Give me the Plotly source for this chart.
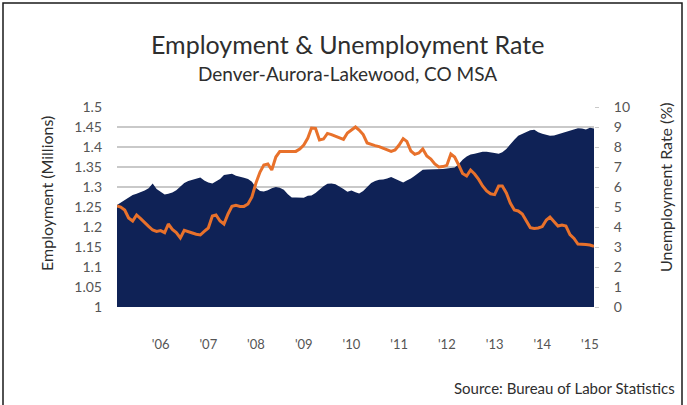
import pandas as pd
import plotly.graph_objects as go

# Monthly observations, Feb 2005 - Feb 2015
months = pd.date_range("2005-02-01", "2015-02-01", freq="MS")

# Nonfarm employment, millions
employment = [
    1.255, 1.261, 1.266, 1.273, 1.280, 1.283, 1.287, 1.291, 1.297, 1.309,
    1.295, 1.287, 1.281, 1.283, 1.286, 1.292, 1.300, 1.310, 1.315, 1.318,
    1.322, 1.324, 1.316, 1.311, 1.309, 1.314, 1.320, 1.330, 1.332, 1.333,
    1.328, 1.326, 1.323, 1.320, 1.313, 1.298, 1.290, 1.289, 1.292, 1.297,
    1.300, 1.298, 1.293, 1.282, 1.274, 1.274, 1.273, 1.273, 1.278, 1.279,
    1.285, 1.294, 1.302, 1.308, 1.309, 1.307, 1.302, 1.295, 1.288, 1.291,
    1.287, 1.284, 1.290, 1.301, 1.310, 1.315, 1.318, 1.319, 1.321, 1.325,
    1.321, 1.315, 1.311, 1.316, 1.321, 1.328, 1.336, 1.343, 1.344, 1.344,
    1.344, 1.344, 1.345, 1.346, 1.347, 1.349, 1.357, 1.368, 1.376, 1.381,
    1.383, 1.385, 1.388, 1.388, 1.387, 1.385, 1.383, 1.387, 1.395, 1.407,
    1.418, 1.428, 1.433, 1.437, 1.442, 1.443, 1.437, 1.433, 1.430, 1.428,
    1.429, 1.432, 1.435, 1.438, 1.442, 1.445, 1.447, 1.446, 1.444, 1.448,
    1.446,
]

# Unemployment rate, percent
unemployment = [
    5.05, 5.00, 4.85, 4.45, 4.30, 4.60, 4.42, 4.20, 4.03, 3.85,
    3.78, 3.82, 3.72, 4.15, 3.88, 3.72, 3.45, 3.83, 3.78, 3.70,
    3.64, 3.60, 3.78, 3.95, 4.55, 4.60, 4.30, 4.15, 4.65, 5.03,
    5.08, 5.03, 5.03, 5.15, 5.50, 6.20, 6.75, 7.10, 7.15, 6.85,
    7.50, 7.77, 7.77, 7.77, 7.77, 7.78, 7.90, 8.10, 8.45, 8.95,
    8.93, 8.35, 8.40, 8.68, 8.62, 8.55, 8.45, 8.38, 8.70, 8.85,
    9.00, 8.85, 8.62, 8.20, 8.12, 8.07, 8.02, 7.93, 7.86, 7.78,
    7.85, 8.10, 8.42, 8.28, 7.80, 7.63, 7.70, 7.90, 7.55, 7.40,
    7.15, 7.00, 7.02, 7.08, 7.65, 7.50, 7.10, 6.68, 6.55, 6.85,
    6.65, 6.38, 6.05, 5.80, 5.66, 5.62, 6.05, 6.05, 5.70, 5.20,
    4.85, 4.80, 4.65, 4.32, 3.97, 3.93, 3.95, 4.02, 4.35, 4.50,
    4.27, 4.05, 4.10, 4.05, 3.62, 3.43, 3.15, 3.15, 3.13, 3.10,
    3.03,
]

year_ticks = pd.date_range("2006-01-01", "2015-01-01", freq="YS")
year_labels = ["'06", "'07", "'08", "'09", "'10", "'11", "'12", "'13", "'14", "'15"]

emp_ticks = [1, 1.05, 1.1, 1.15, 1.2, 1.25, 1.3, 1.35, 1.4, 1.45, 1.5]
emp_labels = ["1", "1.05", "1.1", "1.15", "1.2", "1.25", "1.3", "1.35", "1.4", "1.45", "1.5"]
rate_ticks = list(range(0, 11))

NAVY = "#0f2256"
ORANGE = "#e8712b"
GRID = "#c9c9c9"
TICK_TEXT = "#555555"
TITLE_TEXT = "#2e2e2e"
FONT = "Lato"

W, H = 687, 405
L, R, T, B = 117, 93, 107, 98
PLOT_W, PLOT_H = W - L - R, H - T - B


def paper(x, y):
    """Page pixel position -> paper fractions of the plot area."""
    return (x - L) / PLOT_W, (H - B - y) / PLOT_H


fig = go.Figure()

fig.add_trace(go.Scatter(
    x=months, y=employment, mode="lines", fill="tozeroy",
    line=dict(color=NAVY, width=0), fillcolor=NAVY,
    name="Employment", yaxis="y", hoverinfo="skip",
))

fig.add_trace(go.Scatter(
    x=months, y=unemployment, mode="lines",
    line=dict(color=ORANGE, width=3),
    name="Unemployment Rate", yaxis="y2", hoverinfo="skip",
))

texts = [
    ("Employment & Unemployment Rate", (347, 44), 25, 0, "center"),
    ("Denver-Aurora-Lakewood, CO MSA", (347, 73), 19, 0, "center"),
    ("Employment (Millions)", (46, 194), 16, -90, "center"),
    ("Unemployment Rate (%)", (665, 187), 16, -90, "center"),
    ("Source: Bureau of Labor Statistics", (677, 388), 15, 0, "right"),
]
annotations = []
for txt, (x, y), size, angle, anchor in texts:
    fx, fy = paper(x, y)
    annotations.append(dict(
        text=txt, x=fx, y=fy, xref="paper", yref="paper",
        xanchor=anchor, yanchor="middle", showarrow=False, textangle=angle,
        font=dict(size=size, color=TITLE_TEXT),
    ))

fx0, fy0 = paper(3, 412)
fx1, fy1 = paper(682, 3)

fig.update_layout(
    width=W, height=H,
    margin=dict(l=L, r=R, t=T, b=B),
    paper_bgcolor="white", plot_bgcolor="white",
    showlegend=False,
    font=dict(family=FONT, color=TICK_TEXT, size=14),
    xaxis=dict(
        range=[months[0], months[-1]],
        tickvals=list(year_ticks), ticktext=year_labels,
        showgrid=False, zeroline=False, showline=False,
        ticks="", ticklabelstandoff=28,
        tickfont=dict(size=13, color=TICK_TEXT),
    ),
    yaxis=dict(
        range=[1, 1.5], tickvals=emp_ticks, ticktext=emp_labels,
        showgrid=True, gridcolor=GRID, gridwidth=1.5,
        zeroline=False, showline=False, ticks="",
        ticklabelstandoff=14,
        tickfont=dict(size=14, color=TICK_TEXT),
    ),
    yaxis2=dict(
        range=[0, 10], tickvals=rate_ticks, overlaying="y", side="right",
        showgrid=False, zeroline=False, showline=False,
        ticks="outside", ticklen=4, tickcolor=GRID,
        ticklabelstandoff=12,
        tickfont=dict(size=14, color=TICK_TEXT),
    ),
    annotations=annotations,
    shapes=[dict(
        type="rect", xref="paper", yref="paper",
        x0=fx0, x1=fx1, y0=fy0, y1=fy1,
        line=dict(color="#1a1a1a", width=1.5), fillcolor="rgba(0,0,0,0)",
        layer="above",
    )],
)

fig.write_html("out.html")
